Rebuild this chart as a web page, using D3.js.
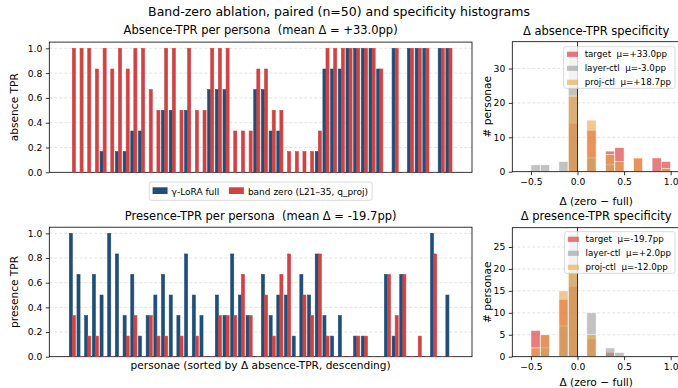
<!DOCTYPE html>
<html>
<head>
<meta charset="utf-8">
<title>Band-zero ablation</title>
<script src="https://cdn.jsdelivr.net/npm/d3@7"></script>
<style>
  body { margin: 0; background: #fff; }
  svg { display: block; font-family: "DejaVu Sans", sans-serif; }
  text { white-space: pre; }
</style>
</head>
<body>
<div id="chart"></div>
<script>
// personas, sorted by delta absence-TPR (descending)
const absFull = [0, 0, 0, 0, 0.167, 0, 0.167, 0.167, 0.333, 0.333,
                 0, 0, 0.5, 0.5, 0, 0.5, 0, 0, 0.667, 0.667,
                 0.667, 0, 0, 0, 0.667, 0.667, 0.333, 0.333, 0, 0,
                 0, 0, 0.167, 0.833, 0.833, 0.833, 1, 1, 1, 1,
                 0.833, 0, 1, 0, 1, 1, 1, 0, 1, 1];
const absZero = [1, 1, 1, 0.833, 1, 0.833, 1, 0.833, 1, 1,
                 0.667, 0.5, 1, 1, 0.5, 1, 0.5, 0.5, 1, 1,
                 1, 0.333, 0.333, 0.333, 0.833, 0.833, 0.5, 0.5, 0.167, 0.167,
                 0.167, 0.167, 0.333, 1, 1, 1, 1, 1, 1, 1,
                 0.833, 0, 1, 0, 1, 1, 1, 0, 1, 1];
const presFull = [1, 0.667, 0.333, 0.667, 0.5, 1, 0.833, 0.333, 0.667, 0.167,
                  0.333, 0.5, 0.667, 0.5, 0.333, 0.833, 0.5, 0.333, 0, 0.5,
                  0.333, 0.833, 0.5, 0.333, 0, 0.667, 0.333, 0.5, 0.5, 0.167,
                  0.667, 0.5, 0.833, 0.333, 0.167, 0.333, 0, 0.167, 0.167, 0,
                  0, 0.667, 0.167, 0.667, 0, 0, 0, 1, 0, 0.5];
const presZero = [0.333, 0, 0.167, 0.167, 0, 0, 0, 0.167, 0.333, 0,
                  0.333, 0.167, 0.167, 0, 0.167, 0, 0.167, 0, 0, 0.333,
                  0.333, 0.333, 0.667, 0.333, 0, 0.5, 0.167, 0.667, 0.833, 0,
                  0.5, 0.333, 0.833, 0.167, 0, 0, 0, 0.167, 0.167, 0,
                  0, 0.667, 0.333, 0.667, 0, 0.167, 0, 0.833, 0, 0];

// histogram bins (width 0.1) and counts per bin
const binStarts = [-0.5, -0.4, -0.3, -0.2, -0.1, 0.0, 0.1, 0.2, 0.3, 0.4, 0.5, 0.6, 0.7, 0.8, 0.9];
const absTarget  = [0, 0, 0, 0, 14, 0, 12, 0, 6, 7, 0, 4, 0, 4, 3];
const absLayer   = [2, 2, 0, 3, 36, 0, 4, 0, 2, 0, 0, 0, 0, 0, 0];
const absProj    = [0, 0, 0, 0, 22, 0, 15, 0, 5, 3, 0, 4, 0, 0, 1];
const presTarget = [6, 5, 0, 13, 16, 0, 4, 0, 1, 0, 0, 0, 0, 0, 0];
const presLayer  = [0, 2, 0, 7, 28, 0, 10, 0, 2, 1, 0, 0, 0, 0, 0];
const presProj   = [2, 5, 0, 15, 20, 0, 5, 0, 0, 0, 0, 0, 0, 0, 0];

const histNames = ["target", "layer-ctl", "proj-ctl"];
const absMeans = ["+33.0", "-3.0", "+18.7"];
const presMeans = ["-19.7", "+2.0", "-12.0"];
const seriesNames = ["\u03b3-LoRA full", "band zero (L21\u201335, q_proj)"];

const tprTicks = [0, 0.2, 0.4, 0.6, 0.8, 1.0];
const histXTicks = [-0.5, 0, 0.5, 1.0];
const absCountTicks = [0, 10, 20, 30];
const presCountTicks = [0, 5, 10, 15, 20, 25];

const W = 678, H = 388;
const barColors = ["#1f4e79", "#d04343"];
const histColors = ["#d62728", "#999999", "#e6a346"];

const svg = d3.select("#chart").append("svg")
  .attr("width", W)
  .attr("height", H);

svg.append("rect").attr("width", W).attr("height", H).attr("fill", "#fff");

svg.append("text")
  .attr("x", 339).attr("y", 16)
  .attr("text-anchor", "middle")
  .attr("font-size", 12.5)
  .text("Band-zero ablation, paired (n=50) and specificity histograms");

function styleAxis(sel, size) {
  sel.select(".domain").remove();
  sel.selectAll(".tick line").attr("stroke", "#000").attr("stroke-width", 0.8);
  sel.selectAll(".tick text").attr("font-size", size).attr("font-family", "DejaVu Sans").attr("fill", "#000");
  sel.attr("font-family", null).attr("font-size", null);
}

function gridLines(g, ticks, y, x0, x1) {
  g.append("g").selectAll("line")
    .data(ticks)
    .enter().append("line")
    .attr("x1", x0).attr("x2", x1)
    .attr("y1", d => y(d)).attr("y2", d => y(d))
    .attr("stroke", "#b0b0b0")
    .attr("stroke-opacity", 0.6)
    .attr("stroke-width", 0.6)
    .attr("stroke-dasharray", "3,2");
}

// Paired per-persona bar panels
const pairPanels = [
  { full: absFull, zero: absZero, box: { x0: 49.3, x1: 472, y0: 42.1, y1: 172.3 },
    title: "Absence-TPR per persona", ylabel: "absence TPR", titleY: 34 },
  { full: presFull, zero: presZero, box: { x0: 49.3, x1: 472, y0: 227.2, y1: 356.7 },
    title: "Presence-TPR per persona", ylabel: "presence TPR", titleY: 220,
    xlabel: "personae (sorted by \u0394 absence-TPR, descending)" }
];

const barW = 0.4;

pairPanels.forEach(p => {
  const b = p.box;
  const x = d3.scaleLinear().domain([-3, 52]).range([b.x0, b.x1]);
  const y = d3.scaleLinear().domain([0, 1.05]).range([b.y1, b.y0]);
  const g = svg.append("g");

  gridLines(g, tprTicks.slice(1), y, b.x0, b.x1);

  g.append("rect")
    .attr("x", b.x0).attr("y", b.y0)
    .attr("width", b.x1 - b.x0).attr("height", b.y1 - b.y0)
    .attr("fill", "none").attr("stroke", "#000").attr("stroke-width", 0.8);

  [[p.full, barColors[0], -barW], [p.zero, barColors[1], 0]].forEach(([vals, color, off]) => {
    g.append("g").selectAll("rect")
      .data(vals)
      .enter().append("rect")
      .attr("x", (d, i) => x(i + off))
      .attr("width", x(barW) - x(0))
      .attr("y", d => y(d))
      .attr("height", d => Math.max(y(0) - y(d), 0.01))
      .attr("fill", color)
      .attr("stroke", color)
      .attr("stroke-width", 0.6);
  });

  const yAxis = g.append("g")
    .attr("transform", `translate(${b.x0},0)`)
    .call(d3.axisLeft(y).tickValues(tprTicks).tickSize(3.5).tickPadding(3.5).tickFormat(d3.format(".1f")));
  styleAxis(yAxis, 9.2);

  const m = d3.mean(p.zero, (v, i) => v - p.full[i]) * 100;
  const mTxt = (m >= 0 ? "+" : "-") + Math.abs(m).toFixed(1);
  g.append("text")
    .attr("x", (b.x0 + b.x1) / 2).attr("y", p.titleY)
    .attr("text-anchor", "middle").attr("font-size", 11.5)
    .text(`${p.title}  (mean \u0394 = ${mTxt}pp)`);

  g.append("text")
    .attr("transform", `translate(18,${(b.y0 + b.y1) / 2}) rotate(-90)`)
    .attr("text-anchor", "middle").attr("font-size", 10.6)
    .text(p.ylabel);

  if (p.xlabel) {
    g.append("text")
      .attr("x", (b.x0 + b.x1) / 2).attr("y", 369)
      .attr("text-anchor", "middle").attr("font-size", 10.6)
      .text(p.xlabel);
  }
});

// Legend between the two bar panels
const leg = svg.append("g");
const legBox = leg.append("rect")
  .attr("y", 182).attr("height", 18.3).attr("rx", 2)
  .attr("fill", "#fff").attr("fill-opacity", 0.8)
  .attr("stroke", "#d0d0d0").attr("stroke-width", 0.8);
let cursor = 0;
const legItems = seriesNames.map((name, k) => {
  const item = leg.append("g");
  item.append("rect").attr("x", 0).attr("y", 187.3).attr("width", 15).attr("height", 6.7).attr("fill", barColors[k]);
  const t = item.append("text").attr("x", 19).attr("y", 194.6).attr("font-size", 9).text(name);
  const w = 19 + t.node().getComputedTextLength();
  const pos = cursor;
  cursor += w + 9.6;
  return { item, pos, w };
});
const legW = 3.4 + cursor - 9.6 + 4;
const legX = (49.3 + 472) / 2 - legW / 2;
legBox.attr("x", legX).attr("width", legW);
legItems.forEach(d => d.item.attr("transform", `translate(${legX + 3.4 + d.pos},0)`));

// Specificity histograms
const histPanels = [
  { counts: [absTarget, absLayer, absProj], means: absMeans, ymax: 37.8, ticks: absCountTicks,
    box: { x0: 512.3, x1: 680, y0: 41.7, y1: 171.7 }, title: "\u0394 absence-TPR specificity",
    titleY: 35, xlabelY: 205, legTop: 46.7 },
  { counts: [presTarget, presLayer, presProj], means: presMeans, ymax: 29.4, ticks: presCountTicks,
    box: { x0: 512.3, x1: 680, y0: 227.7, y1: 356.7 }, title: "\u0394 presence-TPR specificity",
    titleY: 220, xlabelY: 386, legTop: 231.7 }
];

histPanels.forEach(p => {
  const b = p.box;
  const x = d3.scaleLinear().domain([-0.7, 1.1]).range([b.x0, b.x1]);
  const y = d3.scaleLinear().domain([0, p.ymax]).range([b.y1, b.y0]);
  const g = svg.append("g");

  gridLines(g, p.ticks.slice(1), y, b.x0, b.x1);

  p.counts.forEach((counts, k) => {
    g.append("g").selectAll("rect")
      .data(binStarts.map((s, i) => ({ s, c: counts[i] })).filter(d => d.c > 0))
      .enter().append("rect")
      .attr("x", d => x(d.s))
      .attr("width", d => x(d.s + 0.1) - x(d.s))
      .attr("y", d => y(d.c))
      .attr("height", d => y(0) - y(d.c))
      .attr("fill", histColors[k])
      .attr("fill-opacity", 0.6)
      .attr("stroke", "#fff")
      .attr("stroke-width", 0.6);
  });

  g.append("line")
    .attr("x1", x(0)).attr("x2", x(0))
    .attr("y1", b.y0).attr("y2", b.y1)
    .attr("stroke", "#333").attr("stroke-width", 1);

  g.append("rect")
    .attr("x", b.x0).attr("y", b.y0)
    .attr("width", b.x1 - b.x0).attr("height", b.y1 - b.y0)
    .attr("fill", "none").attr("stroke", "#000").attr("stroke-width", 0.8);

  const xAxis = g.append("g")
    .attr("transform", `translate(0,${b.y1})`)
    .call(d3.axisBottom(x).tickValues(histXTicks).tickSize(3.5).tickPadding(3.5).tickFormat(d3.format(".1f")));
  styleAxis(xAxis, 9.2);

  const yAxis = g.append("g")
    .attr("transform", `translate(${b.x0},0)`)
    .call(d3.axisLeft(y).tickValues(p.ticks).tickSize(3.5).tickPadding(3.5));
  styleAxis(yAxis, 9.2);

  g.append("text")
    .attr("x", (b.x0 + b.x1) / 2).attr("y", p.titleY)
    .attr("text-anchor", "middle").attr("font-size", 11.5)
    .text(p.title);

  g.append("text")
    .attr("x", (b.x0 + b.x1) / 2).attr("y", p.xlabelY)
    .attr("text-anchor", "middle").attr("font-size", 10.6)
    .text("\u0394 (zero \u2212 full)");

  g.append("text")
    .attr("transform", `translate(491,${(b.y0 + b.y1) / 2}) rotate(-90)`)
    .attr("text-anchor", "middle").attr("font-size", 10.6)
    .text("# personae");

  // legend, upper right
  const lg = g.append("g");
  const box = lg.append("rect")
    .attr("y", p.legTop).attr("height", 41.6).attr("rx", 2)
    .attr("fill", "#fff").attr("fill-opacity", 0.8)
    .attr("stroke", "#d0d0d0").attr("stroke-width", 0.8);
  const rows = lg.append("g");
  let maxLen = 0;
  histNames.forEach((name, k) => {
    const cy = p.legTop + 7.6 + k * 14;
    rows.append("rect")
      .attr("x", 0).attr("y", cy - 2.6).attr("width", 11).attr("height", 5.2)
      .attr("fill", histColors[k]).attr("fill-opacity", 0.6);
    const t = rows.append("text")
      .attr("x", 17.7).attr("y", cy + 3.1).attr("font-size", 8.7)
      .text(`${name}  \u03bc=${p.means[k]}pp`);
    maxLen = Math.max(maxLen, t.node().getComputedTextLength());
  });
  const bw = 3.3 + 17.7 + maxLen + 4;
  const bx = 675 - bw;
  box.attr("x", bx).attr("width", bw);
  rows.attr("transform", `translate(${bx + 3.3},0)`);
});
</script>
</body>
</html>
